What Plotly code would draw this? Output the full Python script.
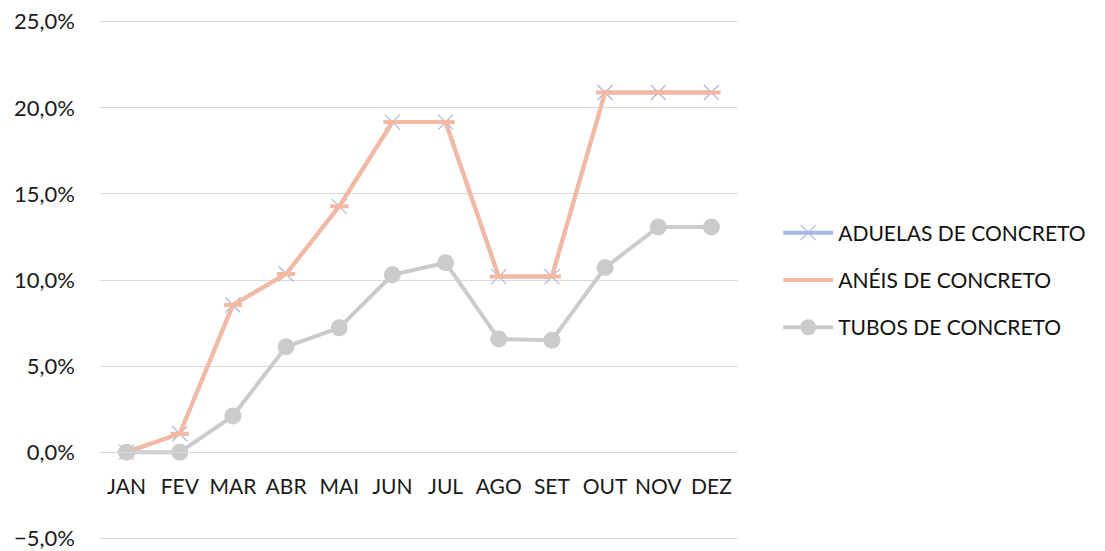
import plotly.graph_objects as go

months = ["JAN", "FEV", "MAR", "ABR", "MAI", "JUN", "JUL", "AGO", "SET", "OUT", "NOV", "DEZ"]
aduelas = [0.0, 0.0107, 0.0855, 0.1035, 0.1428, 0.1917, 0.1917, 0.102, 0.102, 0.2089, 0.2089, 0.2089]
aneis = [0.0, 0.0107, 0.0855, 0.1035, 0.1428, 0.1917, 0.1917, 0.102, 0.102, 0.2089, 0.2089, 0.2089]
tubos = [0.0, 0.0, 0.021, 0.0612, 0.0722, 0.103, 0.110, 0.0657, 0.065, 0.1072, 0.1308, 0.1308]
y_ticks = [-0.05, 0.0, 0.05, 0.10, 0.15, 0.20, 0.25]

FONT = "Lato"
FS = 21
Y0, Y1 = -0.051, 0.251
fig = go.Figure()
fig.add_trace(go.Scatter(
    x=months, y=aduelas, name="ADUELAS DE CONCRETO", mode="lines+markers",
    legendgroup="a",
    line=dict(color="#A9B8E2", width=4),
    marker=dict(symbol="x-thin", size=15, line=dict(color="#A9B8E2", width=1.2)),
))
fig.add_trace(go.Scatter(
    x=months, y=aneis, name="ANÉIS DE CONCRETO", mode="lines+markers",
    legendgroup="b",
    line=dict(color="#F4B9A0", width=4),
    marker=dict(symbol="line-ew", size=13, line=dict(color="#F4B9A0", width=4)),
))
fig.add_trace(go.Scatter(
    x=months, y=tubos, name="TUBOS DE CONCRETO", mode="lines+markers",
    legendgroup="c",
    line=dict(color="#CBCBCB", width=4),
    marker=dict(symbol="circle", size=17, color="#CBCBCB"),
))

fig.update_layout(
    width=1105, height=551,
    margin=dict(l=100, r=367, t=20, b=11, autoexpand=False),
    paper_bgcolor="white", plot_bgcolor="white",
    separators=",.",
    font=dict(family=FONT, size=FS, color="#1a1a1a"),
    showlegend=True,
    legend=dict(x=1.063, y=0.5, yanchor="middle", xanchor="left",
                font=dict(family=FONT, size=FS, color="#111"),
                traceorder="grouped", tracegroupgap=17, itemwidth=50,
                bgcolor="rgba(0,0,0,0)"),
    xaxis=dict(
        type="category", range=[-0.5, 11.5], automargin=False,
        showgrid=False, zeroline=False,
        showline=True, linecolor="#D9D9D9", linewidth=1,
        anchor="free", position=(0 - Y0) / (Y1 - Y0),
        ticks="", ticklabelstandoff=16,
        tickfont=dict(family=FONT, size=FS, color="#1a1a1a"),
    ),
    yaxis=dict(
        range=[Y0, Y1], tickvals=y_ticks, tickformat=".1%", automargin=False,
        showgrid=True, gridcolor="#D9D9D9", gridwidth=1,
        zeroline=False, showline=False, ticks="",
        ticklabelstandoff=24,
        tickfont=dict(family=FONT, size=22, color="#1a1a1a"),
    ),
)
fig.write_html("out.html", config={"displayModeBar": False},
               post_script="document.body.style.margin='0px';")
